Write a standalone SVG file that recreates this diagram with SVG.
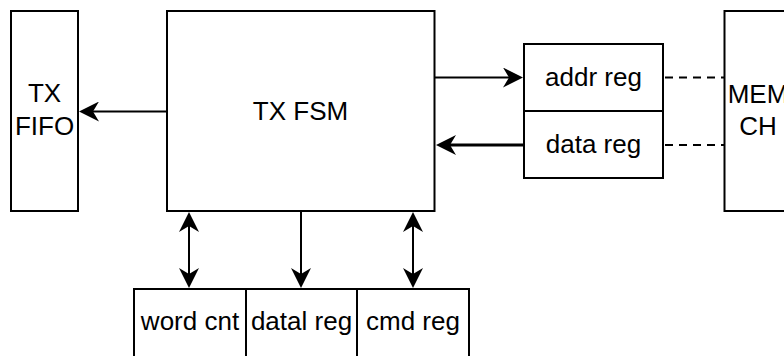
<svg xmlns="http://www.w3.org/2000/svg" width="784" height="356" viewBox="0 0 784 356">
  <style>
    .box { fill: #ffffff; stroke: #000000; stroke-width: 2; }
    .lbl { font-family: "Liberation Sans", Arial, Helvetica, sans-serif; font-size: 26px; fill: #000000; text-anchor: middle; }
    .wire { fill: none; stroke: #000000; stroke-width: 2; }
    .bold { stroke-width: 3; }
    .dash { fill: none; stroke: #000000; stroke-width: 2; stroke-dasharray: 8 6; }
  </style>
  <defs>
    <marker id="head" viewBox="0 0 20 20" markerWidth="20" markerHeight="20" refX="6" refY="10" markerUnits="userSpaceOnUse" orient="auto-start-reverse">
      <path d="M0,0 L20,10 L0,20 L6,10 Z" fill="#000000"/>
    </marker>
  </defs>
  <rect width="784" height="356" fill="#ffffff"/>

  <g id="tx-fifo">
    <rect class="box" x="11" y="11" width="67" height="200"/>
    <text class="lbl" x="44.5" y="102">TX</text>
    <text class="lbl" x="44.5" y="135">FIFO</text>
  </g>

  <g id="tx-fsm">
    <rect class="box" x="167" y="11" width="267.5" height="200"/>
    <text class="lbl" x="300.5" y="120">TX FSM</text>
  </g>

  <g id="addr-reg">
    <rect class="box" x="524" y="44" width="139" height="67"/>
    <text class="lbl" x="593.5" y="86">addr reg</text>
  </g>

  <g id="data-reg">
    <rect class="box" x="524" y="111" width="139" height="67"/>
    <text class="lbl" x="593.5" y="153">data reg</text>
  </g>

  <g id="mem-ch">
    <rect class="box" x="724.5" y="11" width="68" height="200"/>
    <text class="lbl" x="758" y="103">MEM</text>
    <text class="lbl" x="758" y="135">CH</text>
  </g>

  <g id="word-cnt">
    <rect class="box" x="134" y="289" width="112" height="70"/>
    <text class="lbl" x="190" y="330">word cnt</text>
  </g>

  <g id="datal-reg">
    <rect class="box" x="246" y="289" width="111" height="70"/>
    <text class="lbl" x="301.5" y="330">datal reg</text>
  </g>

  <g id="cmd-reg">
    <rect class="box" x="357" y="289" width="112" height="70"/>
    <text class="lbl" x="413" y="330">cmd reg</text>
  </g>

  <g id="connectors">
    <path class="wire" d="M167,111.5 H93" marker-end="url(#head)"/>
    <path class="wire" d="M435,77.5 H509" marker-end="url(#head)"/>
    <path class="wire bold" d="M524,145 H450" marker-end="url(#head)"/>
    <path class="dash" d="M665,77.5 H724"/>
    <path class="dash" d="M665,145 H724"/>
    <path class="wire" d="M189,226 V274" marker-start="url(#head)" marker-end="url(#head)"/>
    <path class="wire" d="M301,212 V274" marker-end="url(#head)"/>
    <path class="wire" d="M413,226 V274" marker-start="url(#head)" marker-end="url(#head)"/>
  </g>
</svg>
